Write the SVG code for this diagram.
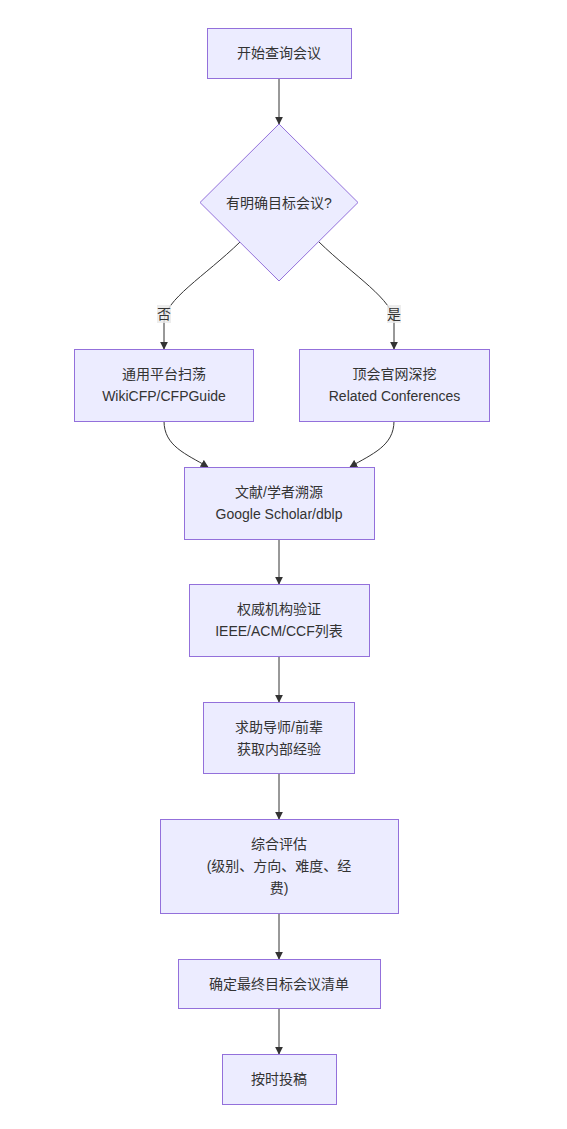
<svg xmlns="http://www.w3.org/2000/svg" width="567" height="1129" viewBox="0 0 567 1129">
<defs>
<style>
.n{fill:#ECECFF;stroke:#9370DB;stroke-width:1}
.t{font-family:"Liberation Sans","Noto Sans CJK SC",sans-serif;font-size:14px;fill:#333;text-anchor:middle;dominant-baseline:central}
.e{fill:none;stroke:#333;stroke-width:1}
.lb{fill:#e8e8e8;opacity:0.8}
</style>
<marker id="ah" viewBox="0 0 10 10" refX="9" refY="5" markerWidth="8" markerHeight="8" orient="auto-start-reverse" markerUnits="userSpaceOnUse">
<path d="M0,0 L10,5 L0,10 z" fill="#333"/>
</marker>
</defs>
<rect width="567" height="1129" fill="#fff"/>
<g id="edges">
<path class="e" d="M279,78 L279,124" marker-end="url(#ah)"/>
<path class="e" d="M240,242 C205,276 164,300 164,322 L164,349" marker-end="url(#ah)"/>
<path class="e" d="M319,242 C354,276 394,300 394,322 L394,349" marker-end="url(#ah)"/>
<path class="e" d="M164,421 C164,446 186,454 208,467" marker-end="url(#ah)"/>
<path class="e" d="M394,421 C394,446 372,454 350,467" marker-end="url(#ah)"/>
<path class="e" d="M279,539 L279,584" marker-end="url(#ah)"/>
<path class="e" d="M279,656 L279,702" marker-end="url(#ah)"/>
<path class="e" d="M279,773 L279,819" marker-end="url(#ah)"/>
<path class="e" d="M279,913 L279,959" marker-end="url(#ah)"/>
<path class="e" d="M279,1008 L279,1054" marker-end="url(#ah)"/>
<g id="label-no"><rect class="lb" x="157" y="305" width="14" height="18"/><text class="t" x="164" y="314">否</text></g>
<g id="label-yes"><rect class="lb" x="387" y="305" width="14" height="18"/><text class="t" x="394" y="314">是</text></g>
</g>
<g id="start"><rect class="n" x="207.5" y="28.5" width="144" height="50"/><text class="t" x="279" y="53">开始查询会议</text></g>
<g id="decide"><polygon class="n" points="279,124 358,202.5 279,281 200,202.5"/><text class="t" x="279" y="202.5">有明确目标会议?</text></g>
<g id="general"><rect class="n" x="74.5" y="349.5" width="179" height="72"/><text class="t" x="164" y="374">通用平台扫荡</text><text class="t" x="164" y="396">WikiCFP/CFPGuide</text></g>
<g id="top"><rect class="n" x="299.5" y="349.5" width="190" height="72"/><text class="t" x="394.5" y="374">顶会官网深挖</text><text class="t" x="394.5" y="396">Related Conferences</text></g>
<g id="lit"><rect class="n" x="184.5" y="467.5" width="190" height="72"/><text class="t" x="279" y="492">文献/学者溯源</text><text class="t" x="279" y="514">Google Scholar/dblp</text></g>
<g id="auth"><rect class="n" x="189.5" y="584.5" width="180" height="72"/><text class="t" x="279" y="609">权威机构验证</text><text class="t" x="279" y="631">IEEE/ACM/CCF列表</text></g>
<g id="mentor"><rect class="n" x="203.5" y="702.5" width="151" height="71"/><text class="t" x="279" y="727">求助导师/前辈</text><text class="t" x="279" y="749">获取内部经验</text></g>
<g id="eval"><rect class="n" x="160.5" y="819.5" width="238" height="94"/><text class="t" x="279" y="844">综合评估</text><text class="t" x="279" y="866">(级别、方向、难度、经</text><text class="t" x="279" y="888">费)</text></g>
<g id="final"><rect class="n" x="178.5" y="959.5" width="202" height="49"/><text class="t" x="279" y="984">确定最终目标会议清单</text></g>
<g id="submit"><rect class="n" x="222.5" y="1054.5" width="114" height="50"/><text class="t" x="279" y="1079">按时投稿</text></g>
</svg>
